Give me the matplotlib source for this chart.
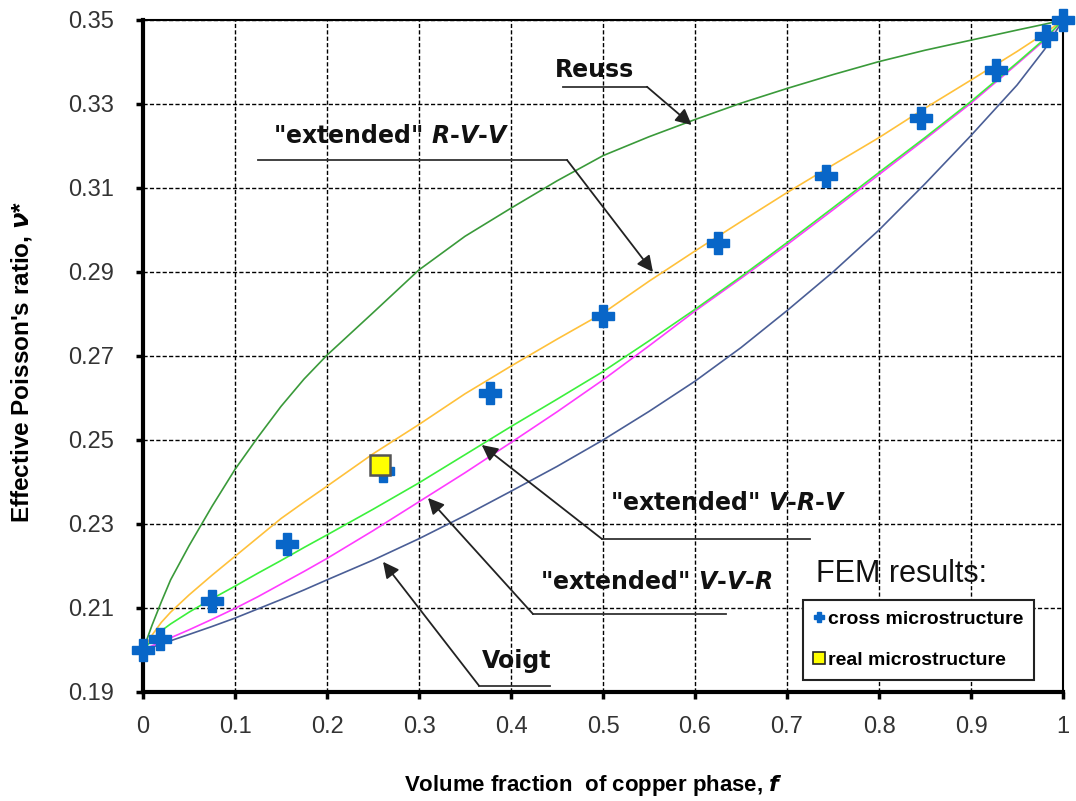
import matplotlib
matplotlib.use("Agg")
import matplotlib.pyplot as plt
from matplotlib.lines import Line2D
from matplotlib.ticker import FormatStrFormatter

plt.rcParams["font.family"] = ["Liberation Sans", "DejaVu Sans"]
plt.rcParams["mathtext.fontset"] = "custom"
plt.rcParams["mathtext.it"] = "DejaVu Sans:italic:bold"
plt.rcParams["mathtext.rm"] = "DejaVu Sans:bold"
plt.rcParams["mathtext.bf"] = "DejaVu Sans:bold"

# volume fraction grid used for the bound curves
frac = [0, 0.01, 0.02, 0.03, 0.05, 0.075, 0.1, 0.125, 0.15, 0.175, 0.2,
        0.25, 0.3, 0.35, 0.4, 0.45, 0.5, 0.55, 0.6, 0.65, 0.7, 0.75, 0.8,
        0.85, 0.9, 0.95, 0.98, 1.0]

reuss = [0.200, 0.2060, 0.2115, 0.2167, 0.2248, 0.2342, 0.2430, 0.2507,
         0.2580, 0.2645, 0.2702, 0.2803, 0.2905, 0.2985, 0.3052, 0.3117,
         0.3177, 0.3222, 0.3263, 0.3302, 0.3337, 0.3370, 0.3401, 0.3428,
         0.3452, 0.3476, 0.3490, 0.350]
rvv = [0.200, 0.2036, 0.2066, 0.2090, 0.2131, 0.2178, 0.2223, 0.2268,
       0.2313, 0.2352, 0.2390, 0.2467, 0.2537, 0.2610, 0.2676, 0.2740,
       0.2802, 0.2878, 0.2950, 0.3020, 0.3089, 0.3155, 0.3220, 0.3290,
       0.3357, 0.3425, 0.3468, 0.350]
vrv = [0.200, 0.2024, 0.2046, 0.2062, 0.2090, 0.2122, 0.2152, 0.2183,
       0.2213, 0.2244, 0.2274, 0.2335, 0.2398, 0.2465, 0.2532, 0.2597,
       0.2663, 0.2736, 0.2811, 0.2889, 0.2970, 0.3053, 0.3137, 0.3220,
       0.3306, 0.3398, 0.3455, 0.350]
vvr = [0.200, 0.2010, 0.2020, 0.2029, 0.2048, 0.2073, 0.2099, 0.2127,
       0.2157, 0.2187, 0.2218, 0.2284, 0.2353, 0.2422, 0.2494, 0.2567,
       0.2643, 0.2724, 0.2807, 0.2885, 0.2965, 0.3048, 0.3132, 0.3216,
       0.3302, 0.3395, 0.3452, 0.350]
voigt = [0.200, 0.2007, 0.2014, 0.2022, 0.2037, 0.2056, 0.2076, 0.2098,
         0.2120, 0.2143, 0.2167, 0.2214, 0.2265, 0.2320, 0.2378, 0.2437,
         0.2500, 0.2568, 0.2640, 0.2720, 0.2808, 0.2900, 0.3000, 0.3110,
         0.3225, 0.3345, 0.3430, 0.350]

# FEM results
cross_x = [0, 0.019, 0.075, 0.156, 0.261, 0.377, 0.5, 0.625, 0.742,
           0.846, 0.927, 0.981, 1.0]
cross_y = [0.200, 0.2027, 0.2116, 0.2252, 0.2427, 0.2613, 0.2796, 0.2969,
           0.3129, 0.3266, 0.3380, 0.3462, 0.350]
real_x = [0.2576]
real_y = [0.2440]

x_ticks = [0, 0.1, 0.2, 0.3, 0.4, 0.5, 0.6, 0.7, 0.8, 0.9, 1.0]
y_ticks = [0.19, 0.21, 0.23, 0.25, 0.27, 0.29, 0.31, 0.33, 0.35]

# callouts: label, text anchor (left, middle), leader start/corner, arrow tip
callouts = [
    ("Reuss", (0.448, 0.3381), (0.4565, 0.5478, 0.3341), (0.5964, 0.3250)),
    ('"extended" $R$-$V$-$V$', (0.141, 0.3224), (0.125, 0.4609, 0.31667), (0.5543, 0.2900)),
    ('"extended" $V$-$R$-$V$', (0.508, 0.2350), (0.725, 0.4989, 0.22643), (0.3682, 0.24881)),
    ('"extended" $V$-$V$-$R$', (0.4315, 0.2162), (0.6337, 0.4239, 0.20857), (0.3098, 0.2362)),
    ("Voigt", (0.3685, 0.1974), (0.4424, 0.3652, 0.1915), (0.2609, 0.2210)),
]

fig = plt.figure(figsize=(10.76, 8.01), dpi=100)
ax = fig.add_axes([143 / 1076, 1 - 692 / 801, 920 / 1076, 672 / 801])

ax.plot(frac, reuss, color="#3a9a3a", lw=1.2, zorder=3)
ax.plot(frac, rvv, color="#ffc13b", lw=1.2, zorder=3)
ax.plot(frac, voigt, color="#4a5e96", lw=1.2, zorder=3)
ax.plot(frac, vvr, color="#ff3cff", lw=1.2, zorder=3)
ax.plot(frac, vrv, color="#3cf03c", lw=1.2, zorder=3)

ax.plot(cross_x, cross_y, ls="none", marker="P", ms=16, color="#0866c8",
        mec="#0866c8", zorder=5, clip_on=False)
ax.plot(real_x, real_y, ls="none", marker="s", ms=14, mfc="#ffff00",
        mec="#555555", mew=1.8, zorder=6, clip_on=False)

for label, (tx, ty), (x0, x1, yl), tip in callouts:
    ax.plot([x0, x1], [yl, yl], color="#333333", lw=1.3, zorder=4)
    ax.annotate("", xy=tip, xytext=(x1, yl),
                arrowprops=dict(arrowstyle="-|>", color="#222222", lw=1.3,
                                mutation_scale=24, shrinkA=0, shrinkB=0),
                zorder=4)
    ax.text(tx, ty, label, ha="left", va="center", fontsize=17,
            fontweight="bold", family="DejaVu Sans", color="#111111", zorder=4)

ax.text(0.824, 0.2181, "FEM results:", ha="center", va="center", fontsize=22,
        color="#111111")

handles = [
    Line2D([], [], ls="none", marker="P", ms=7, color="#0866c8"),
    Line2D([], [], ls="none", marker="s", ms=8, mfc="#ffff00", mec="#222222", mew=1.2),
]
leg = ax.legend(handles, ["cross microstructure", "real microstructure"],
                loc="upper left", bbox_to_anchor=(0.717, 0.137), borderaxespad=0,
                frameon=True, fancybox=False, edgecolor="#222222", framealpha=1,
                handlelength=0.6, handletextpad=0.15, labelspacing=1.2,
                borderpad=0.55, prop={"weight": "bold", "size": 14})
leg.get_frame().set_linewidth(1.5)
leg.set_zorder(7)

ax.set_xlim(0, 1)
ax.set_ylim(0.19, 0.35)
ax.set_xticks(x_ticks)
ax.set_yticks(y_ticks)
ax.xaxis.set_major_formatter(FormatStrFormatter("%g"))
ax.yaxis.set_major_formatter(FormatStrFormatter("%.2f"))
ax.tick_params(axis="both", direction="out", length=5, width=2.5,
               labelsize=17, labelcolor="#333333")
ax.tick_params(axis="x", pad=12)
ax.tick_params(axis="y", pad=16)

ax.set_axisbelow(True)
ax.grid(True, color="black", lw=1, linestyle=(0, (3, 1.6)))

for side in ("left", "bottom"):
    ax.spines[side].set_linewidth(3)
for side in ("top", "right"):
    ax.spines[side].set_linewidth(1.5)

ax.set_xlabel("Volume fraction  of copper phase, $f$", fontsize=16,
              fontweight="bold")
ax.xaxis.set_label_coords(0.489, -0.12)
ax.set_ylabel(r"Effective Poisson's ratio, $\nu$*", fontsize=17.5,
              fontweight="bold")
ax.yaxis.set_label_coords(-0.118, 0.491)

fig.savefig("out.png", dpi=100)
